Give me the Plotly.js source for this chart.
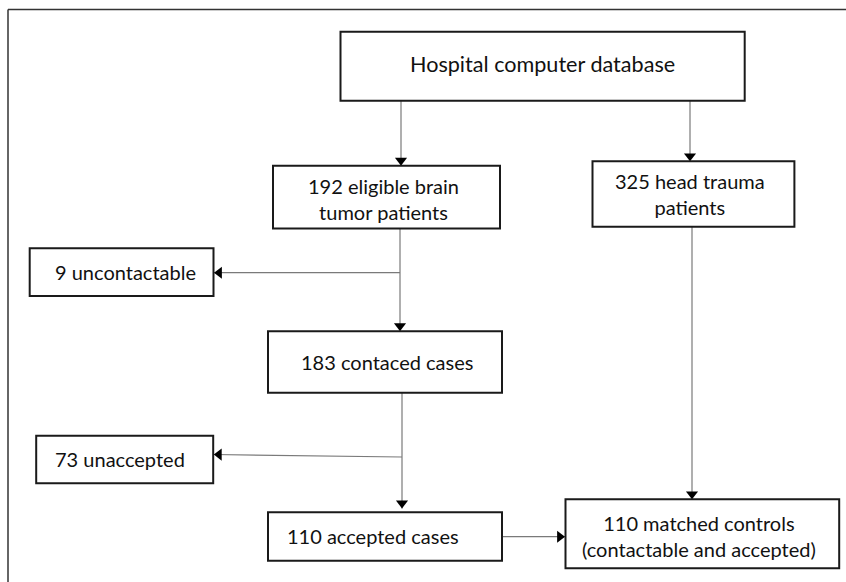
<!DOCTYPE html>
<html>
<head>
<meta charset="utf-8">
<script src="https://cdn.plot.ly/plotly-3.0.1.min.js"></script>
<style>html,body{margin:0;padding:0;background:#fff;}#chart{width:846px;height:582px;}</style>
</head>
<body>
<div id="chart"></div>
<script>
// ---- content (data) ----
const nodeCounts = [null, 192, 325, 9, 183, 73, 110, 110];
const nodeLabels = [
  'Hospital computer database',
  '192 eligible brain<br>tumor patients',
  '325 head trauma<br>patients',
  '9 uncontactable',
  '183 contaced cases',
  '73 unaccepted',
  '110 accepted cases',
  '110 matched controls<br>(contactable and accepted)'
];
// ---- layout geometry (pixel-space axes) ----
const boxX0 = [340.5, 273, 592.5, 29.7, 268, 36.2, 268, 565.5];
const boxX1 = [744.7, 500, 794.4, 213.5, 502, 213.2, 502, 839.2];
const boxY0 = [31.7, 165.7, 161.3, 248.3, 331.2, 435.7, 512.3, 499.3];
const boxY1 = [100.7, 228.5, 226.7, 296, 392.7, 483.3, 560.7, 568.3];
const textX = [542.5, 383.5, 690, 125, 386.5, 120, 372.5, 699];
const textY = [63.5, 198.5, 194, 272, 361.5, 459, 536, 536];
const fontSizes = [21.6, 20, 20, 20, 20, 20, 20, 20];
// connectors: start (x,y) -> tip (x,y)
const edgeX0 = [401, 690, 400, 400, 402, 402, 692, 502];
const edgeY0 = [100.7, 100.7, 228.5, 272.7, 392.7, 457, 226.7, 536.7];
const edgeX1 = [401, 690, 400, 214, 402, 213.8, 692, 565];
const edgeY1 = [165.7, 161.3, 331.2, 272.7, 508.5, 454.5, 499.3, 536.7];
const edgeHead = [true, true, true, true, true, true, true, true];

const W = 846, H = 582;
const shapes = [];
// outer frame (top and left edges visible)
shapes.push({type:'line', xref:'x', yref:'y', x0:8, y0:9.5, x1:W, y1:9.5, line:{color:'#333', width:1.5}});
shapes.push({type:'line', xref:'x', yref:'y', x0:8, y0:9.5, x1:8, y1:H, line:{color:'#333', width:1.5}});

for (let i = 0; i < nodeLabels.length; i++) {
  shapes.push({type:'rect', xref:'x', yref:'y', x0:boxX0[i], x1:boxX1[i], y0:boxY0[i], y1:boxY1[i],
    line:{color:'#1a1a1a', width:2}, fillcolor:'rgba(255,255,255,0)'});
}
for (let i = 0; i < edgeX0.length; i++) {
  shapes.push({type:'line', xref:'x', yref:'y', x0:edgeX0[i], y0:edgeY0[i], x1:edgeX1[i], y1:edgeY1[i],
    line:{color:'#7a7a7a', width:1.2}, layer:'below'});
}

// arrowheads as triangle markers through the axes
const headSize = 10.5;
const hx = [], hy = [], hsym = [];
for (let i = 0; i < edgeX0.length; i++) {
  if (!edgeHead[i]) continue;
  const dx = edgeX1[i] - edgeX0[i], dy = edgeY1[i] - edgeY0[i];
  const len = Math.sqrt(dx*dx + dy*dy);
  const ux = dx/len, uy = dy/len;
  const r = headSize/2;
  hx.push(edgeX1[i] - ux*r);
  hy.push(edgeY1[i] - uy*r);
  if (Math.abs(dx) > Math.abs(dy)) hsym.push(dx > 0 ? 'triangle-right' : 'triangle-left');
  else hsym.push(dy > 0 ? 'triangle-down' : 'triangle-up');
}
const traces = [{
  type:'scatter', mode:'markers', x:hx, y:hy, hoverinfo:'skip',
  marker:{symbol:hsym, size:headSize, color:'#000', line:{width:0}}
}];

const annotations = nodeLabels.map((t, i) => ({
  x:textX[i], y:textY[i], xref:'x', yref:'y', text:t, showarrow:false,
  xanchor:'center', yanchor:'middle', align:'center',
  font:{family:'Lato, "Open Sans", sans-serif', size:fontSizes[i], color:'#111'}
}));

const layout = {
  width:W, height:H, margin:{l:0, r:0, t:0, b:0},
  paper_bgcolor:'#fff', plot_bgcolor:'#fff', showlegend:false,
  xaxis:{range:[0, W], visible:false, fixedrange:true},
  yaxis:{range:[H, 0], visible:false, fixedrange:true},
  shapes:shapes, annotations:annotations
};
Plotly.newPlot('chart', traces, layout, {staticPlot:true, displayModeBar:false});
</script>
</body>
</html>
